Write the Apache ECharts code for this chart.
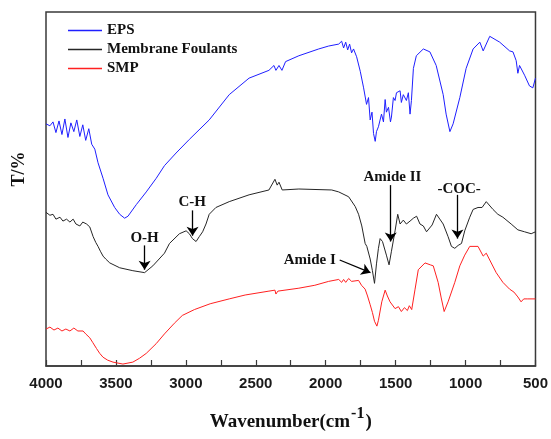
<!DOCTYPE html>
<html>
<head>
<meta charset="utf-8">
<script src="https://cdn.jsdelivr.net/npm/echarts@6/dist/echarts.min.js"></script>
<style>
html,body{margin:0;padding:0;background:#fff;}
#c{width:551px;height:439px;}
</style>
</head>
<body>
<div id="c"></div>
<script>
// Wavenumber (cm-1) and transmittance (arbitrary units)
const epsWave = [4000,3972,3950,3929,3907,3886,3865,3843,3822,3801,3780,3758,3737,3716,3694,3673,3651,3628,3592,3557,3509,3473,3438,3414,3354,3283,3212,3153,3070,2975,2833,2690,2548,2406,2370,2356,2334,2313,2287,2192,2050,1979,1907,1886,1872,1857,1843,1829,1815,1801,1779,1753,1729,1708,1694,1682,1669,1658,1646,1637,1623,1601,1587,1575,1566,1551,1537,1530,1516,1504,1494,1480,1468,1459,1445,1423,1409,1397,1387,1373,1352,1302,1255,1210,1160,1139,1112,1089,1041,996,946,898,874,827,756,685,661,638,626,614,578,543,519,500];
const epsT    = [249,247,251,240,252,238,254,235,250,241,253,236,248,232,244,228,223,209,193,176,163,156,152,154,166,179,193,206,219,233,253,279,296,304,309,304,309,304,313,319,326,329,331,334,327,333,325,331,322,326,318,303,286,269,276,253,261,239,231,241,246,259,251,274,261,266,251,256,276,273,281,279,283,271,279,273,281,259,273,306,319,326,323,309,279,259,241,249,276,306,326,333,324,339,333,324,323,314,301,309,299,288,286,296];

const foulWave = [4000,3972,3950,3929,3900,3879,3853,3829,3806,3786,3758,3737,3710,3687,3663,3644,3628,3611,3592,3573,3544,3473,3379,3295,3236,3153,3117,3046,2998,2975,2953,2927,2904,2880,2856,2833,2785,2690,2548,2406,2363,2347,2334,2311,2192,1957,1907,1836,1789,1765,1742,1718,1706,1682,1666,1651,1637,1623,1611,1594,1580,1566,1547,1530,1504,1485,1468,1445,1423,1397,1373,1350,1326,1302,1279,1239,1208,1160,1125,1101,1077,1053,1029,1006,970,946,911,882,852,804,769,733,674,626,578,531,500];
const foulT    = [158,155,156,151,153,149,151,148,151,146,144,148,146,143,133,127,123,118,113,110,106,101,98,96,103,116,126,136,139,136,131,128,133,138,146,156,163,169,176,181,192,186,189,181,182,181,179,174,164,156,144,126,123,110,98,85,105,121,131,128,126,114,104,118,139,156,146,150,146,149,152,154,146,144,138,145,156,146,133,123,121,124,126,139,153,161,163,163,169,161,156,153,146,140,138,136,138];

const smpWave = [4000,3972,3943,3915,3886,3858,3829,3801,3772,3735,3716,3687,3665,3639,3616,3592,3559,3521,3450,3379,3331,3283,3212,3153,3082,3025,2939,2826,2690,2576,2406,2363,2356,2342,2192,2078,1979,1907,1886,1872,1857,1836,1815,1801,1765,1744,1718,1701,1682,1666,1651,1634,1623,1599,1575,1559,1540,1504,1480,1459,1437,1416,1402,1385,1373,1361,1338,1290,1252,1231,1196,1174,1153,1125,1077,1041,1006,970,911,874,852,781,733,685,654,626,603,584,555,500];
const smpT    = [38,40,37,39,36,38,36,39,36,36,33,29,24,18,13,9,6,4,2,4,8,13,23,33,44,52,58,64,69,73,77,78,74,77,80,83,87,89,86,89,86,90,87,89,88,83,79,72,63,55,46,41,47,66,78,72,66,59,61,56,60,57,62,58,60,79,99,106,104,103,86,70,56,66,86,103,114,123,123,113,116,96,86,79,76,71,66,69,69,69];

const xTicks = [4000,3500,3000,2500,2000,1500,1000,500];
const seriesNames = ['EPS','Membrane Foulants','SMP'];

// annotations: [text, labelWave, labelT, arrowStartWave, arrowStartT, arrowEndWave, arrowEndT]
const notes = [
  ['O-H', 3295,131, 3295,124, 3295,99],
  ['C-H', 2954,169, 2952,160, 2952,134],
  ['Amide II', 1523,194, 1535,186, 1535,128],
  ['-COC-', 1046,182, 1058,176, 1058,131],
  ['Amide I', 2114,109, 1900,109, 1680,96]
];

function zip(a,b){return a.map((x,i)=>[x,b[i]]);}

const serif = '"Liberation Serif","Times New Roman",serif';
const sans = '"Liberation Sans",Arial,sans-serif';

const chart = echarts.init(document.getElementById('c'), null, {renderer:'canvas'});
chart.setOption({
  animation:false,
  backgroundColor:'#fff',
  grid:{left:46,right:13.5,top:12,bottom:63,show:true,borderColor:'#3a3a3a',borderWidth:1.5,backgroundColor:'transparent'},
  legend:{
    orient:'vertical',left:63,top:16,itemWidth:34,itemHeight:1.5,itemGap:0,icon:'rect',
    textStyle:{fontFamily:serif,fontWeight:'bold',fontSize:15,color:'#111',lineHeight:19},
    data:seriesNames
  },
  xAxis:{
    type:'value',min:500,max:4000,interval:500,inverse:true,
    axisLine:{show:true,lineStyle:{color:'#3a3a3a',width:1.5}},
    axisTick:{show:true,inside:true,length:6,lineStyle:{color:'#3a3a3a',width:1.2}},
    minorTick:{show:true,splitNumber:2,length:6,lineStyle:{color:'#3a3a3a',width:1.2}},
    splitLine:{show:false},
    axisLabel:{margin:10,fontFamily:sans,fontWeight:'bold',fontSize:15,color:'#1a1a1a',showMinLabel:true,showMaxLabel:true,
      formatter:v=>xTicks.includes(v)?String(v):''},
    name:'{a|Wavenumber(cm}{b|-1}{a|)}',
    nameLocation:'middle',nameGap:40,
    nameTextStyle:{rich:{
      a:{fontFamily:serif,fontWeight:'bold',fontSize:19,color:'#111',lineHeight:26,verticalAlign:'bottom'},
      b:{fontFamily:serif,fontWeight:'bold',fontSize:16,color:'#111',lineHeight:16,verticalAlign:'top',padding:[0,1,12,1]}
    }}
  },
  yAxis:{
    type:'value',min:0,max:364,
    axisLine:{show:false},axisTick:{show:false},axisLabel:{show:false},splitLine:{show:false},
    name:'T/%',nameLocation:'middle',nameGap:18,nameRotate:90,
    nameTextStyle:{fontFamily:serif,fontWeight:'bold',fontSize:18,color:'#111',padding:[0,0,0,40]}
  },
  series:[
    {name:seriesNames[0],type:'line',data:zip(epsWave,epsT),showSymbol:false,symbol:'none',lineStyle:{color:'#1f1fff',width:1},itemStyle:{color:'#1f1fff'}},
    {name:seriesNames[1],type:'line',data:zip(foulWave,foulT),showSymbol:false,symbol:'none',lineStyle:{color:'#262626',width:1},itemStyle:{color:'#262626'},
      markLine:{silent:true,symbol:['none','arrow'],symbolSize:9,label:{show:false},
        lineStyle:{color:'#000',width:1.3,type:'solid'},
        data:notes.map(n=>[{coord:[n[3],n[4]]},{coord:[n[5],n[6]]}])},
      markPoint:{silent:true,symbol:'circle',symbolSize:1,itemStyle:{color:'rgba(0,0,0,0)'},
        label:{show:true,position:'inside',fontFamily:serif,fontWeight:'bold',fontSize:15,color:'#111',formatter:p=>p.name},
        data:notes.map(n=>({name:n[0],coord:[n[1],n[2]]}))}
    },
    {name:seriesNames[2],type:'line',data:zip(smpWave,smpT),showSymbol:false,symbol:'none',lineStyle:{color:'#ff2020',width:1},itemStyle:{color:'#ff2020'}}
  ]
});
</script>
</body>
</html>
